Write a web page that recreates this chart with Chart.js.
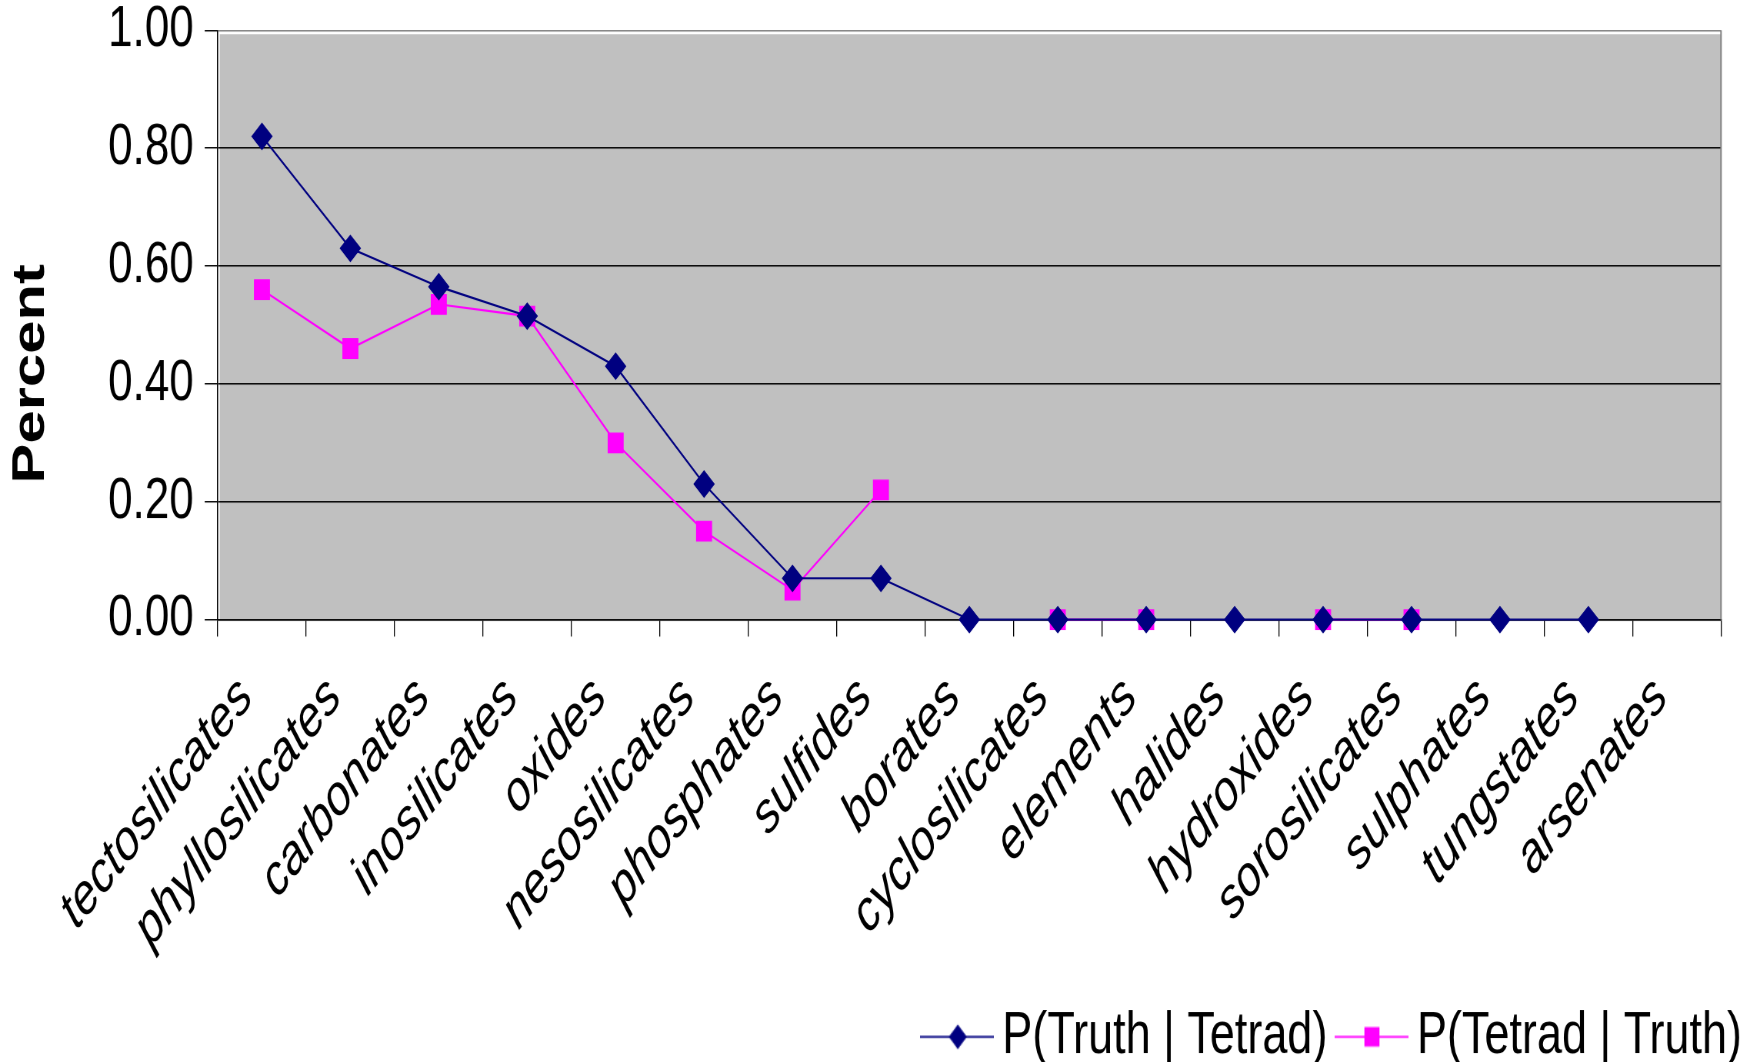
<!DOCTYPE html>
<html>
<head>
<meta charset="utf-8">
<title>Tetrad vs Truth by mineral class</title>
<script src="https://cdn.jsdelivr.net/npm/chart.js@4/dist/chart.umd.min.js"></script>
<style>
  html { margin: 0; padding: 0; background: #ffffff; overflow: hidden; }
  body { margin: 0; padding: 0; background: #ffffff; width: 1750px; height: 1062px; }
  /* the chart is laid out at 1750x817 and stretched vertically to 1062 */
  #frame { width: 1750px; height: 817px; transform: scaleY(1.29988); transform-origin: 0 0; }
</style>
</head>
<body>
<div id="frame"><canvas id="chart" width="1750" height="817"></canvas></div>
<script>
// Mineral classes along the x axis
const categories = [
  'tectosilicates', 'phyllosilicates', 'carbonates', 'inosilicates', 'oxides',
  'nesosilicates', 'phosphates', 'sulfides', 'borates', 'cyclosilicates',
  'elements', 'halides', 'hydroxides', 'sorosilicates', 'sulphates',
  'tungstates', 'arsenates'
];

// P(Truth | Tetrad)
const truthGivenTetrad = [
  0.82, 0.63, 0.565, 0.515, 0.43,
  0.23, 0.07, 0.07, 0, 0,
  0, 0, 0, 0, 0,
  0, null
];

// P(Tetrad | Truth)
const tetradGivenTruth = [
  0.56, 0.46, 0.535, 0.515, 0.30,
  0.15, 0.05, 0.22, null, 0,
  0, null, 0, 0, null,
  null, null
];

const seriesNames = ['P(Truth | Tetrad)', 'P(Tetrad | Truth)'];
const yTickValues = [0, 0.2, 0.4, 0.6, 0.8, 1.0];
const yAxisTitle = 'Percent';

const NAVY = '#000080';
const MAGENTA = '#ff00ff';
const FONT = '"Liberation Sans", Arial, Helvetica, sans-serif';

Chart.defaults.font.family = FONT;
Chart.defaults.color = '#000000';

// Legend swatches: a short line with the series marker on it
function legendSwatch(color, marker) {
  const c = document.createElement('canvas');
  c.width = 74; c.height = 22;
  const g = c.getContext('2d');
  g.strokeStyle = color;
  g.lineWidth = 1.5;
  g.beginPath(); g.moveTo(0, 11); g.lineTo(74, 11); g.stroke();
  g.fillStyle = color;
  if (marker === 'diamond') {
    g.beginPath();
    g.moveTo(38, 1.5); g.lineTo(47, 11); g.lineTo(38, 20.5); g.lineTo(29, 11);
    g.closePath(); g.fill();
  } else {
    g.fillRect(30, 3.5, 15, 15);
  }
  return c;
}
const legendIcons = [legendSwatch(NAVY, 'diamond'), legendSwatch(MAGENTA, 'square')];

// Gray plot background with a thin white inset and gray right border
const plotFrame = {
  id: 'plotFrame',
  beforeDraw(chart) {
    const { ctx, chartArea: a } = chart;
    ctx.save();
    ctx.fillStyle = '#c0c0c0';
    ctx.fillRect(a.left + 2, a.top + 3, a.right - a.left - 2, a.bottom - a.top - 3);
    ctx.restore();
  },
  beforeDatasetsDraw(chart) {
    const { ctx, chartArea: a } = chart;
    ctx.save();
    ctx.strokeStyle = '#808080';
    ctx.lineWidth = 1.5;
    ctx.beginPath();
    ctx.moveTo(a.right, a.top);
    ctx.lineTo(a.right, a.bottom);
    ctx.stroke();
    ctx.restore();
  }
};

// Vertical axis title, placed in the left margin
const yTitle = {
  id: 'yTitle',
  afterDraw(chart) {
    const { ctx } = chart;
    ctx.save();
    ctx.translate(31.5, 287.5);
    ctx.rotate(-Math.PI / 2);
    ctx.font = 'bold 46px ' + FONT;
    ctx.fillStyle = '#000000';
    ctx.textAlign = 'center';
    ctx.textBaseline = 'middle';
    ctx.fillText(yAxisTitle, 0, 0);
    ctx.restore();
  }
};

new Chart(document.getElementById('chart'), {
  type: 'line',
  data: {
    labels: categories,
    datasets: [
      {
        label: seriesNames[0],
        data: truthGivenTetrad,
        borderColor: NAVY,
        backgroundColor: NAVY,
        borderWidth: 1.6,
        pointStyle: 'rectRot',
        pointRadius: 10,
        pointBorderWidth: 1,
        pointBorderColor: NAVY,
        pointBackgroundColor: NAVY,
        tension: 0,
        clip: false,
        spanGaps: false
      },
      {
        label: seriesNames[1],
        data: tetradGivenTruth,
        borderColor: MAGENTA,
        backgroundColor: MAGENTA,
        borderWidth: 1.6,
        pointStyle: 'rect',
        pointRadius: 10.6,
        pointBorderWidth: 1,
        pointBorderColor: MAGENTA,
        pointBackgroundColor: MAGENTA,
        tension: 0,
        clip: false,
        spanGaps: false
      }
    ]
  },
  options: {
    responsive: false,
    maintainAspectRatio: false,
    devicePixelRatio: 1.3,
    animation: false,
    events: [],
    layout: { padding: { top: 23.3, right: -13, bottom: -13, left: 0 } },
    scales: {
      x: {
        type: 'category',
        offset: true,
        grid: {
          display: true,
          offset: true,
          drawOnChartArea: false,
          drawTicks: true,
          tickLength: 13,
          tickColor: '#000000',
          lineWidth: 1
        },
        border: { display: true, color: '#000000', width: 1.2 },
        ticks: {
          autoSkip: false,
          minRotation: 45,
          maxRotation: 45,
          padding: 21,
          labelOffset: -16,
          color: '#000000',
          font: { size: 44, style: 'italic', family: FONT }
        },
        afterFit(scale) {
          scale.height = 277.4;
          scale.paddingLeft = 0;
          scale.paddingRight = 0;
        }
      },
      y: {
        type: 'linear',
        position: 'left',
        min: 0,
        max: 1,
        grid: {
          drawTicks: true,
          tickLength: 13,
          lineWidth: 1.1,
          color: (c) => (c.tick && c.tick.value === 1 ? '#808080' : '#000000'),
          tickColor: '#000000'
        },
        border: { display: true, color: '#000000', width: 1.2 },
        ticks: {
          padding: 11,
          color: '#000000',
          font: { size: 44, family: FONT },
          callback: (v) => Number(v).toFixed(2)
        },
        afterBuildTicks(scale) {
          scale.ticks = yTickValues.map((v) => ({ value: v }));
        },
        afterFit(scale) {
          scale.width = 217.7;
          scale.paddingTop = 0;
          scale.paddingBottom = 0;
        }
      },
      yRight: {
        type: 'linear',
        position: 'right',
        display: true,
        grid: { display: false, drawTicks: false },
        border: { display: false },
        ticks: { display: false },
        afterFit(scale) {
          scale.width = 42;
        }
      }
    },
    plugins: {
      title: { display: false },
      tooltip: { enabled: false },
      legend: {
        display: true,
        position: 'bottom',
        align: 'end',
        labels: {
          usePointStyle: true,
          pointStyleWidth: 46,
          padding: 21,
          color: '#000000',
          font: { size: 45, family: FONT },
          generateLabels(chart) {
            const items = Chart.defaults.plugins.legend.labels.generateLabels(chart);
            items.forEach((it, i) => { it.pointStyle = legendIcons[i]; });
            return items;
          }
        }
      }
    }
  },
  plugins: [plotFrame, yTitle]
});
</script>
</body>
</html>
